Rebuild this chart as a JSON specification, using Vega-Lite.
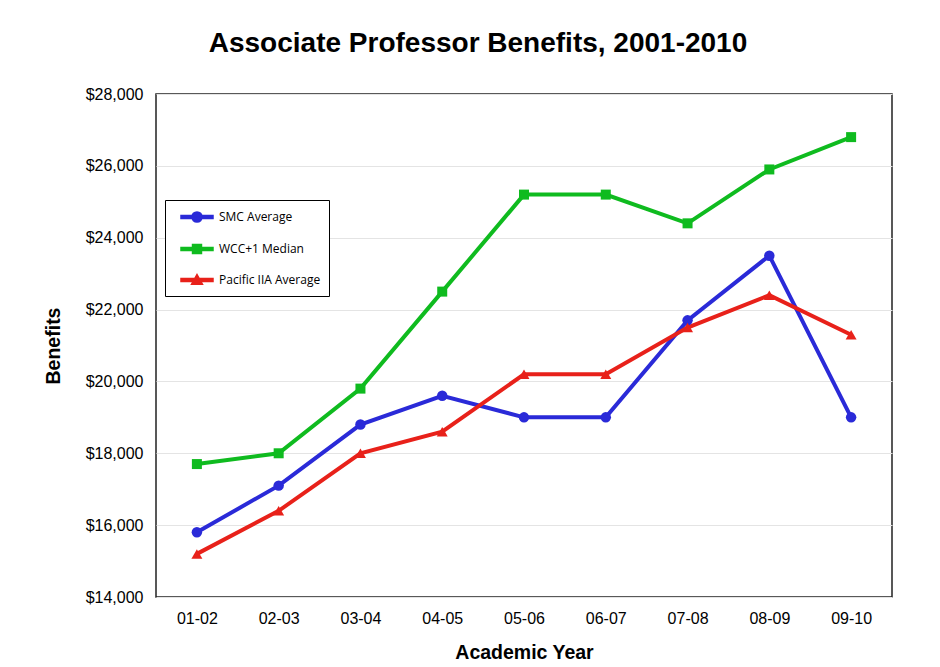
{
  "$schema": "https://vega.github.io/schema/vega-lite/v6.json",
  "width": 736,
  "height": 503,
  "autosize": {"type": "none"},
  "padding": {"left": 156, "top": 94, "right": 48, "bottom": 70},
  "background": "white",
  "title": {
    "text": "Associate Professor Benefits, 2001-2010",
    "font": "Liberation Sans",
    "fontSize": 28,
    "fontWeight": "bold",
    "color": "#000",
    "anchor": "middle",
    "dx": -46,
    "offset": 28
  },
  "config": {
    "view": {"stroke": "#222", "strokeWidth": 1.5},
    "font": "Liberation Sans"
  },
  "data": {
    "values": [
      {"year": "01-02", "series": "SMC Average", "value": 15800},
      {"year": "02-03", "series": "SMC Average", "value": 17100},
      {"year": "03-04", "series": "SMC Average", "value": 18800},
      {"year": "04-05", "series": "SMC Average", "value": 19600},
      {"year": "05-06", "series": "SMC Average", "value": 19000},
      {"year": "06-07", "series": "SMC Average", "value": 19000},
      {"year": "07-08", "series": "SMC Average", "value": 21700},
      {"year": "08-09", "series": "SMC Average", "value": 23500},
      {"year": "09-10", "series": "SMC Average", "value": 19000},
      {"year": "01-02", "series": "WCC+1 Median", "value": 17700},
      {"year": "02-03", "series": "WCC+1 Median", "value": 18000},
      {"year": "03-04", "series": "WCC+1 Median", "value": 19800},
      {"year": "04-05", "series": "WCC+1 Median", "value": 22500},
      {"year": "05-06", "series": "WCC+1 Median", "value": 25200},
      {"year": "06-07", "series": "WCC+1 Median", "value": 25200},
      {"year": "07-08", "series": "WCC+1 Median", "value": 24400},
      {"year": "08-09", "series": "WCC+1 Median", "value": 25900},
      {"year": "09-10", "series": "WCC+1 Median", "value": 26800},
      {"year": "01-02", "series": "Pacific IIA Average", "value": 15200},
      {"year": "02-03", "series": "Pacific IIA Average", "value": 16400},
      {"year": "03-04", "series": "Pacific IIA Average", "value": 18000},
      {"year": "04-05", "series": "Pacific IIA Average", "value": 18600},
      {"year": "05-06", "series": "Pacific IIA Average", "value": 20200},
      {"year": "06-07", "series": "Pacific IIA Average", "value": 20200},
      {"year": "07-08", "series": "Pacific IIA Average", "value": 21500},
      {"year": "08-09", "series": "Pacific IIA Average", "value": 22400},
      {"year": "09-10", "series": "Pacific IIA Average", "value": 21300}
    ]
  },
  "encoding": {
    "x": {
      "field": "year",
      "type": "ordinal",
      "scale": {"type": "point", "padding": 0.5},
      "axis": {
        "title": "Academic Year",
        "titleFontSize": 19.5,
        "titleFontWeight": "bold",
        "titleColor": "#000",
        "titlePadding": 17,
        "labelAngle": 0,
        "labelFontSize": 16,
        "labelColor": "#000",
        "labelPadding": 13,
        "ticks": false,
        "domain": false,
        "grid": false
      }
    },
    "y": {
      "field": "value",
      "type": "quantitative",
      "scale": {"domain": [14000, 28000], "nice": false, "zero": false},
      "axis": {
        "title": "Benefits",
        "titleFontSize": 19.5,
        "titleFontWeight": "bold",
        "titleColor": "#000",
        "titlePadding": 22,
        "format": "$,.0f",
        "values": [14000, 16000, 18000, 20000, 22000, 24000, 26000, 28000],
        "labelFontSize": 16,
        "labelColor": "#000",
        "labelPadding": 13,
        "ticks": false,
        "domain": false,
        "grid": true,
        "gridColor": "#e4e4e4",
        "gridWidth": 1
      }
    },
    "color": {
      "field": "series",
      "type": "nominal",
      "sort": ["SMC Average", "WCC+1 Median", "Pacific IIA Average"],
      "scale": {
        "domain": ["SMC Average", "WCC+1 Median", "Pacific IIA Average"],
        "range": ["#2a2ad8", "#0fbb1f", "#e8211a"]
      }
    }
  },
  "layer": [
    {
      "mark": {"type": "line", "strokeWidth": 4},
      "encoding": {
        "color": {
          "field": "series",
          "type": "nominal",
          "sort": ["SMC Average", "WCC+1 Median", "Pacific IIA Average"],
          "legend": {
            "title": null,
            "orient": "none",
            "legendX": 9,
            "legendY": 106,
            "strokeColor": "#000",
            "fillColor": "white",
            "padding": 8,
            "symbolOffset": 15,
            "symbolSize": 256,
            "rowPadding": 14,
            "labelFontSize": 12,
            "labelFont": "Open Sans",
            "labelColor": "#000",
            "labelOffset": 13,
            "encode": {
              "symbols": {
                "update": {
                  "shape": {"signal": "datum.value === 'SMC Average' ? 'M-2,-0.18H2V0.18H-2Z M-0.64,0A0.64,0.64,0,1,1,0.64,0A0.64,0.64,0,1,1,-0.64,0Z' : datum.value === 'WCC+1 Median' ? 'M-2,-0.18H2V0.18H-2Z M-0.56,-0.56H0.56V0.56H-0.56Z' : 'M-2,-0.18H2V0.18H-2Z M0,-0.68L0.68,0.52H-0.68Z'"},
                  "fill": {"signal": "scale('color', datum.value)"},
                  "stroke": {"value": "transparent"},
                  "opacity": {"value": 1}
                }
              }
            }
          }
        }
      }
    },
    {"transform": [{"filter": "datum.series === 'SMC Average'"}], "mark": {"type": "point", "shape": "circle", "filled": true, "size": 110, "opacity": 1}},
    {"transform": [{"filter": "datum.series === 'WCC+1 Median'"}], "mark": {"type": "point", "shape": "square", "filled": true, "size": 100, "opacity": 1}},
    {"transform": [{"filter": "datum.series === 'Pacific IIA Average'"}], "mark": {"type": "point", "shape": "triangle-up", "filled": true, "size": 120, "opacity": 1}}
  ]
}
